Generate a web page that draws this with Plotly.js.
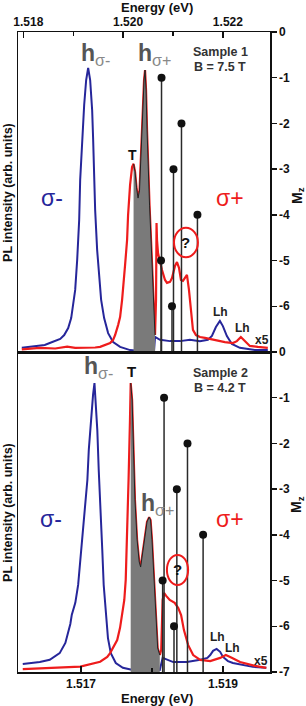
<!DOCTYPE html>
<html><head><meta charset="utf-8">
<script src="https://cdn.plot.ly/plotly-3.0.1.min.js"></script>
<style>html,body{margin:0;padding:0;background:#fff}</style>
</head><body><div id="chart" style="width:306px;height:706px"></div>
<script>
// ---- Sample 1 (B = 7.5 T) ----
const s1BlueE = [1.51797,1.51813,1.51833,1.51843,1.51853,1.51864,1.51874,1.51882,1.51890,1.51896,1.51900,1.51904,1.51908,1.51912,1.51914,1.51918,1.51922,1.51926,1.51930,1.51934,1.51938,1.51940,1.51942,1.51944,1.51948,1.51952,1.51956,1.51962,1.51970,1.51980,1.51994,1.52014,1.52034,1.52062,1.52064,1.52074,1.52094,1.52114,1.52134,1.52154,1.52170,1.52178,1.52186,1.52194,1.52200,1.52208,1.52218,1.52234,1.52264,1.52290];
const s1BlueI = [0.013,0.016,0.019,0.022,0.028,0.034,0.041,0.053,0.075,0.106,0.147,0.194,0.288,0.413,0.538,0.663,0.772,0.850,0.888,0.850,0.756,0.663,0.553,0.444,0.319,0.225,0.163,0.106,0.059,0.031,0.016,0.006,0.003,0.003,0.047,0.038,0.034,0.034,0.038,0.034,0.038,0.050,0.078,0.097,0.081,0.050,0.025,0.013,0.006,0.006];
const s1RedE = [1.51797,1.51833,1.51864,1.51888,1.51904,1.51928,1.51944,1.51954,1.51966,1.51974,1.51980,1.51984,1.51990,1.51994,1.51998,1.52002,1.52004,1.52008,1.52010,1.52014,1.52018,1.52021,1.52024,1.52027,1.52030,1.52033,1.52036,1.52039,1.52042,1.52044,1.52046,1.52048,1.52050,1.52053,1.52056,1.52059,1.52062,1.52064,1.52066,1.52067,1.52068,1.52070,1.52074,1.52078,1.52084,1.52088,1.52094,1.52098,1.52104,1.52108,1.52112,1.52116,1.52120,1.52124,1.52128,1.52132,1.52136,1.52140,1.52146,1.52154,1.52164,1.52180,1.52204,1.52220,1.52228,1.52236,1.52244,1.52254,1.52270,1.52290];
const s1RedI = [0.008,0.013,0.011,0.017,0.013,0.013,0.014,0.016,0.022,0.028,0.038,0.053,0.084,0.109,0.163,0.225,0.272,0.350,0.428,0.522,0.578,0.588,0.563,0.513,0.481,0.506,0.631,0.756,0.850,0.881,0.819,0.694,0.569,0.459,0.350,0.241,0.131,0.053,0.163,0.403,0.350,0.309,0.281,0.256,0.225,0.216,0.219,0.231,0.269,0.281,0.263,0.225,0.222,0.234,0.241,0.194,0.131,0.069,0.053,0.047,0.044,0.038,0.031,0.028,0.034,0.047,0.034,0.019,0.016,0.013];
const s1GrayRange = [1.52021, 1.52064];
const s1StemE = [1.52077, 1.52117, 1.52101, 1.52149, 1.52076, 1.52098];
const s1StemMz = [-1, -2, -3, -4, -5, -6];

// ---- Sample 2 (B = 4.2 T) ----
const s2BlueE = [1.51618,1.51642,1.51656,1.51670,1.51678,1.51682,1.51685,1.51687,1.51692,1.51696,1.51700,1.51704,1.51709,1.51711,1.51714,1.51717,1.51719,1.51720,1.51723,1.51725,1.51727,1.51730,1.51732,1.51735,1.51738,1.51742,1.51749,1.51759,1.51773,1.51811,1.51815,1.51830,1.51849,1.51868,1.51878,1.51882,1.51886,1.51891,1.51896,1.51900,1.51907,1.51914,1.51942,1.51961];
const s2BlueI = [0.025,0.031,0.038,0.059,0.091,0.125,0.150,0.178,0.216,0.272,0.366,0.475,0.600,0.694,0.788,0.866,0.903,0.866,0.756,0.631,0.506,0.381,0.272,0.178,0.106,0.059,0.028,0.013,0.006,0.006,0.044,0.031,0.031,0.038,0.044,0.053,0.066,0.072,0.063,0.047,0.034,0.028,0.016,0.013];
const s2RedE = [1.51618,1.51656,1.51699,1.51727,1.51737,1.51741,1.51746,1.51751,1.51755,1.51758,1.51761,1.51763,1.51765,1.51767,1.51769,1.51770,1.51772,1.51774,1.51776,1.51779,1.51782,1.51784,1.51787,1.51790,1.51793,1.51796,1.51798,1.51800,1.51803,1.51805,1.51808,1.51811,1.51813,1.51815,1.51817,1.51820,1.51825,1.51832,1.51837,1.51841,1.51845,1.51851,1.51858,1.51868,1.51882,1.51896,1.51904,1.51913,1.51924,1.51945,1.51961];
const s2RedI = [0.009,0.013,0.017,0.032,0.047,0.059,0.078,0.100,0.138,0.178,0.225,0.288,0.413,0.600,0.788,0.903,0.850,0.694,0.538,0.413,0.344,0.328,0.381,0.428,0.469,0.484,0.475,0.413,0.288,0.163,0.075,0.053,0.069,0.225,0.247,0.238,0.225,0.216,0.200,0.178,0.131,0.084,0.053,0.038,0.034,0.044,0.053,0.044,0.031,0.019,0.013];
const s2GrayRange = [1.51770, 1.51811];
const s2StemE = [1.51817, 1.51850, 1.51835, 1.51872, 1.51815, 1.51831];
const s2StemMz = [-1, -2, -3, -4, -5, -6];

// ---- tick labels ----
const topTickVals = [1.518, 1.520, 1.522];
const topTickText = ['1.518', '1.520', '1.522'];
const botTickVals = [1.517, 1.519];
const botTickText = ['1.517', '1.519'];
const mzTopVals = [0, -1, -2, -3, -4, -5, -6];
const mzBotVals = [0, -1, -2, -3, -4, -5, -6, -7];

const BLUE = '#26269a', RED = '#ee1c1c', GRAY = '#7a7a7a', STEM = '#2a2a2a';
const FONT = 'Liberation Sans, Arial, sans-serif';

function grayPart(E, I, rng) {
  const x = [], y = [];
  for (let i = 0; i < E.length; i++) if (E[i] >= rng[0] && E[i] <= rng[1]) { x.push(E[i]); y.push(I[i]); }
  return {x, y};
}
function stems(E, M, bottom) {
  const x = [], y = [];
  for (let i = 0; i < E.length; i++) { x.push(E[i], E[i], null); y.push(bottom, M[i], null); }
  return {x, y};
}

const traces = [];
function panel(xa, ya, ya2, bE, bI, rE, rI, gr, sE, sM) {
  traces.push({x: bE, y: bI, xaxis: xa, yaxis: ya, mode: 'lines', line: {color: BLUE, width: 2}, hoverinfo: 'skip'});
  traces.push({x: rE, y: rI, xaxis: xa, yaxis: ya, mode: 'lines', line: {color: RED, width: 2.2}, hoverinfo: 'skip'});
  const g = grayPart(rE, rI, gr);
  traces.push({x: g.x, y: g.y, xaxis: xa, yaxis: ya, mode: 'lines', fill: 'tozeroy', fillcolor: GRAY, line: {color: '#222', width: 1}, hoverinfo: 'skip'});
  const s = stems(sE, sM, -7);
  traces.push({x: s.x, y: s.y, xaxis: xa, yaxis: ya2, mode: 'lines', line: {color: STEM, width: 1.5}, hoverinfo: 'skip', connectgaps: false});
  traces.push({x: sE, y: sM, xaxis: xa, yaxis: ya2, mode: 'markers', marker: {color: '#111', size: 8}, hoverinfo: 'skip'});
}
panel('x', 'y', 'y2', s1BlueE, s1BlueI, s1RedE, s1RedI, s1GrayRange, s1StemE, s1StemMz);
panel('x2', 'y3', 'y4', s2BlueE, s2BlueI, s2RedE, s2RedI, s2GrayRange, s2StemE, s2StemMz);

const tickFont = {family: FONT, size: 12, color: '#111', weight: 'bold'};
const frame = {showline: true, linecolor: '#111', linewidth: 1.5, showgrid: false, zeroline: false};

const layout = {
  width: 306, height: 706, showlegend: false,
  margin: {l: 18, r: 36, t: 32, b: 34},
  paper_bgcolor: '#fff', plot_bgcolor: '#fff',
  xaxis: Object.assign({}, frame, {domain: [0, 1], anchor: 'y', side: 'top', mirror: true, range: [1.517894, 1.522944],
    tickvals: topTickVals, ticktext: topTickText, ticks: 'inside', ticklen: 6, tickwidth: 1.5, tickcolor: '#111',
    minor: {tickvals: [1.519, 1.521], ticks: 'inside', ticklen: 4, tickwidth: 1.2, tickcolor: '#111'},
    tickfont: tickFont, ticklabelshift: 5}),
  yaxis: Object.assign({}, frame, {domain: [0.5, 1], anchor: 'x', range: [0, 1], showticklabels: false, ticks: '', mirror: true}),
  yaxis2: Object.assign({}, frame, {overlaying: 'y', anchor: 'x', side: 'right', range: [-7, 0],
    tickvals: mzTopVals, ticktext: mzTopVals.map(String), ticks: 'outside', ticklen: 5, tickwidth: 1.5, tickcolor: '#111', tickfont: tickFont}),
  xaxis2: Object.assign({}, frame, {domain: [0, 1], anchor: 'y3', side: 'bottom', mirror: true, range: [1.516113, 1.519662],
    tickvals: botTickVals, ticktext: botTickText, ticks: 'inside', ticklen: 6, tickwidth: 1.5, tickcolor: '#111',
    minor: {tickvals: [1.518], ticks: 'inside', ticklen: 4, tickwidth: 1.2, tickcolor: '#111'},
    tickfont: tickFont}),
  yaxis3: Object.assign({}, frame, {domain: [0, 0.5], anchor: 'x2', range: [0, 1], showticklabels: false, ticks: '', mirror: true}),
  yaxis4: Object.assign({}, frame, {overlaying: 'y3', anchor: 'x2', side: 'right', range: [-7, 0],
    tickvals: mzBotVals, ticktext: mzBotVals.map(String), ticks: 'outside', ticklen: 5, tickwidth: 1.5, tickcolor: '#111', tickfont: tickFont}),
  annotations: [],
  shapes: []
};

function ann(text, x, y, size, color, extra) {
  layout.annotations.push(Object.assign({text, x, y, xref: 'paper', yref: 'paper', showarrow: false,
    xanchor: 'center', yanchor: 'middle', font: {family: FONT, size, color, weight: 'bold'}}, extra || {}));
}
const hSub = (s) => 'h<sub><span style="color:#888;font-weight:normal">σ' + s + '</span></sub>';
// axis titles
ann('Energy (eV)', 0.552, 1.039, 13, '#111');
ann('Energy (eV)', 0.552, -0.041, 13, '#111');
ann('PL intensity (arb. units)', -0.040, 0.75, 12.5, '#111', {textangle: -90});
ann('PL intensity (arb. units)', -0.040, 0.25, 12.5, '#111', {textangle: -90});
ann('M<sub>z</sub>', 1.11, 0.745, 14, '#111', {textangle: -90});
ann('M<sub>z</sub>', 1.11, 0.262, 14, '#111', {textangle: -90});
// top panel labels
ann(hSub('-'), 0.306, 0.965, 23, '#555');
ann(hSub('+'), 0.540, 0.965, 23, '#555');
ann('Sample 1', 0.802, 0.968, 12.5, '#333');
ann('B = 7.5 T', 0.802, 0.946, 12.5, '#333');
ann('T', 0.456, 0.808, 14, '#111');
ann('σ-', 0.135, 0.741, 23, BLUE, {font: {family: FONT, size: 23, color: BLUE}});
ann('σ+', 0.841, 0.741, 23, RED, {font: {family: FONT, size: 23, color: RED}});
ann('?', 0.666, 0.671, 15, '#111');
ann('Lh', 0.802, 0.5625, 12, '#222');
ann('Lh', 0.889, 0.5375, 12, '#222');
ann('x5', 0.968, 0.519, 12, '#222');
// bottom panel labels
ann(hSub('-'), 0.321, 0.476, 23, '#555');
ann('T', 0.451, 0.470, 15, '#111');
ann('Sample 2', 0.802, 0.4665, 12.5, '#333');
ann('B = 4.2 T', 0.802, 0.4435, 12.5, '#333');
ann('σ-', 0.131, 0.239, 23, BLUE, {font: {family: FONT, size: 23, color: BLUE}});
ann(hSub('+'), 0.552, 0.262, 23, '#555');
ann('σ+', 0.841, 0.239, 23, RED, {font: {family: FONT, size: 23, color: RED}});
ann('?', 0.633, 0.160, 15, '#111');
ann('Lh', 0.790, 0.0547, 12, '#222');
ann('Lh', 0.853, 0.0375, 12, '#222');
ann('x5', 0.964, 0.017, 12, '#222');
// red circles around question marks
layout.shapes.push({type: 'circle', xref: 'paper', yref: 'paper', x0: 0.619, x1: 0.714, y0: 0.648, y1: 0.694, line: {color: RED, width: 2}});
layout.shapes.push({type: 'circle', xref: 'paper', yref: 'paper', x0: 0.591, x1: 0.675, y0: 0.136, y1: 0.183, line: {color: RED, width: 2}});

Plotly.newPlot('chart', traces, layout, {staticPlot: true, displayModeBar: false});
</script></body></html>
